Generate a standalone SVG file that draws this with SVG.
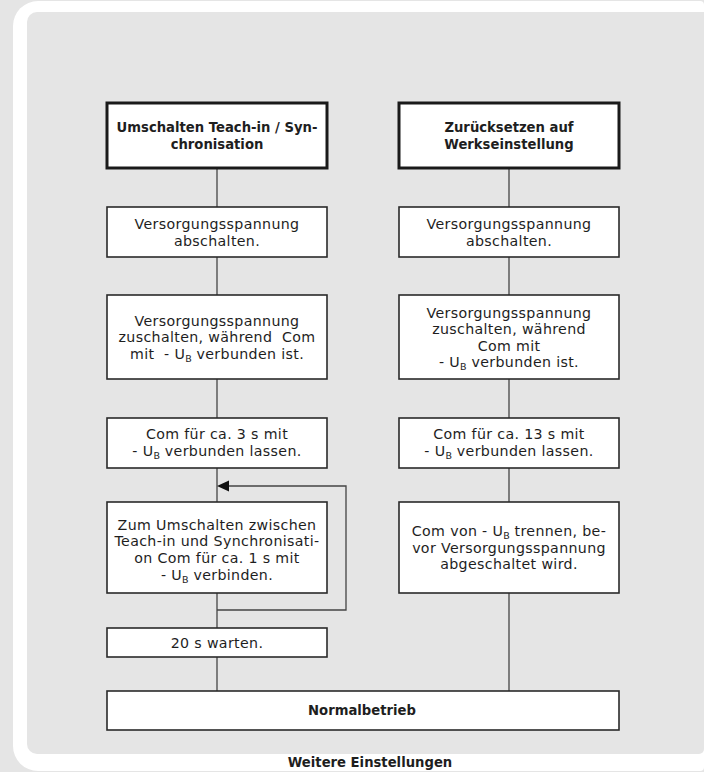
<svg xmlns="http://www.w3.org/2000/svg" width="704" height="772" viewBox="0 0 704 772">
<style>
text{font-family:"DejaVu Sans","Open Sans",sans-serif;font-size:14.2px;letter-spacing:0.35px;fill:#1e1e1e;text-anchor:middle}
.b{font-weight:bold;font-size:13.2px;letter-spacing:0}
.box{fill:#fff;stroke:#2a2a2a;stroke-width:1.6}
.tbox{fill:#fff;stroke:#1a1a1a;stroke-width:3}
.con line,.con path{stroke:#444;stroke-width:1.3;fill:none}
.sub{font-size:9.5px;letter-spacing:0}
</style>
<rect width="704" height="772" fill="#e5e5e5"/>
<path d="M13,26 A25,25 0 0 1 38,1 H700 A4,4 0 0 1 704,5 V767 A4,4 0 0 1 700,771 H38 A25,25 0 0 1 13,746 Z" fill="#fff"/>
<path d="M27,22 A10,10 0 0 1 37,12 H704 V749 A5,5 0 0 1 699,754 H37 A10,10 0 0 1 27,744 Z" fill="#e5e5e5"/>
<g class="con" id="connectors">
<line x1="217" y1="168" x2="217" y2="207"/>
<line x1="217" y1="257" x2="217" y2="295"/>
<line x1="217" y1="379" x2="217" y2="418"/>
<line x1="217" y1="468" x2="217" y2="502"/>
<line x1="217" y1="593" x2="217" y2="628"/>
<line x1="217" y1="657" x2="217" y2="691"/>
<line x1="509" y1="168" x2="509" y2="207"/>
<line x1="509" y1="257" x2="509" y2="295"/>
<line x1="509" y1="379" x2="509" y2="418"/>
<line x1="509" y1="468" x2="509" y2="502"/>
<line x1="509" y1="593" x2="509" y2="691"/>
<path d="M217,610 H346 V486 H228"/>
<polygon points="217,486 229,480.5 229,491.5" fill="#111"/>
</g>
<g id="t1"><rect class="tbox" x="107" y="103" width="220" height="65"/>
<text class="b" x="217" y="131.5">Umschalten Teach-in / Syn-<tspan x="217" dy="17.5">chronisation</tspan></text></g>
<g id="t2"><rect class="tbox" x="399" y="103" width="220" height="65"/>
<text class="b" x="509" y="131.5">Zurücksetzen auf<tspan x="509" dy="17.5">Werkseinstellung</tspan></text></g>
<g id="l2"><rect class="box" x="107" y="207" width="220" height="50"/>
<text x="217" y="228.5">Versorgungsspannung<tspan x="217" dy="17">abschalten.</tspan></text></g>
<g id="r2"><rect class="box" x="399" y="207" width="220" height="50"/>
<text x="509" y="228.5">Versorgungsspannung<tspan x="509" dy="17">abschalten.</tspan></text></g>
<g id="l3"><rect class="box" x="107" y="295" width="220" height="84"/>
<text x="217" y="325.5" xml:space="preserve">Versorgungsspannung<tspan x="217" dy="16.6">zuschalten, während  Com</tspan><tspan x="217" dy="16.6">mit  - U<tspan class="sub" dy="3">B</tspan><tspan dy="-3"> verbunden ist.</tspan></tspan></text></g>
<g id="r3"><rect class="box" x="399" y="295" width="220" height="84"/>
<text x="509" y="317.5">Versorgungsspannung<tspan x="509" dy="16.6">zuschalten, während</tspan><tspan x="509" dy="16.6">Com mit</tspan><tspan x="509" dy="16.6">- U<tspan class="sub" dy="3">B</tspan><tspan dy="-3"> verbunden ist.</tspan></tspan></text></g>
<g id="l4"><rect class="box" x="107" y="418" width="220" height="50"/>
<text x="217" y="439">Com für ca. 3 s mit<tspan x="217" dy="17">- U<tspan class="sub" dy="3">B</tspan><tspan dy="-3"> verbunden lassen.</tspan></tspan></text></g>
<g id="r4"><rect class="box" x="399" y="418" width="220" height="50"/>
<text x="509" y="439">Com für ca. 13 s mit<tspan x="509" dy="17">- U<tspan class="sub" dy="3">B</tspan><tspan dy="-3"> verbunden lassen.</tspan></tspan></text></g>
<g id="l5"><rect class="box" x="107" y="502" width="220" height="91"/>
<text x="217" y="529.5">Zum Umschalten zwischen<tspan x="217" dy="16.8">Teach-in und Synchronisati-</tspan><tspan x="217" dy="16.8">on Com für ca. 1 s mit</tspan><tspan x="217" dy="16.8">- U<tspan class="sub" dy="3">B</tspan><tspan dy="-3"> verbinden.</tspan></tspan></text></g>
<g id="r5"><rect class="box" x="399" y="502" width="220" height="91"/>
<text x="509" y="536">Com von - U<tspan class="sub" dy="3">B</tspan><tspan dy="-3"> trennen, be-</tspan><tspan x="509" dy="16.6">vor Versorgungsspannung</tspan><tspan x="509" dy="16.6">abgeschaltet wird.</tspan></text></g>
<g id="l6"><rect class="box" x="107" y="628" width="220" height="29"/>
<text x="217" y="647.5">20 s warten.</text></g>
<g id="n"><rect class="box" x="107" y="691" width="512" height="39"/>
<text class="b" x="362" y="715">Normalbetrieb</text></g>
<text class="b" x="370" y="767">Weitere Einstellungen</text>
</svg>
